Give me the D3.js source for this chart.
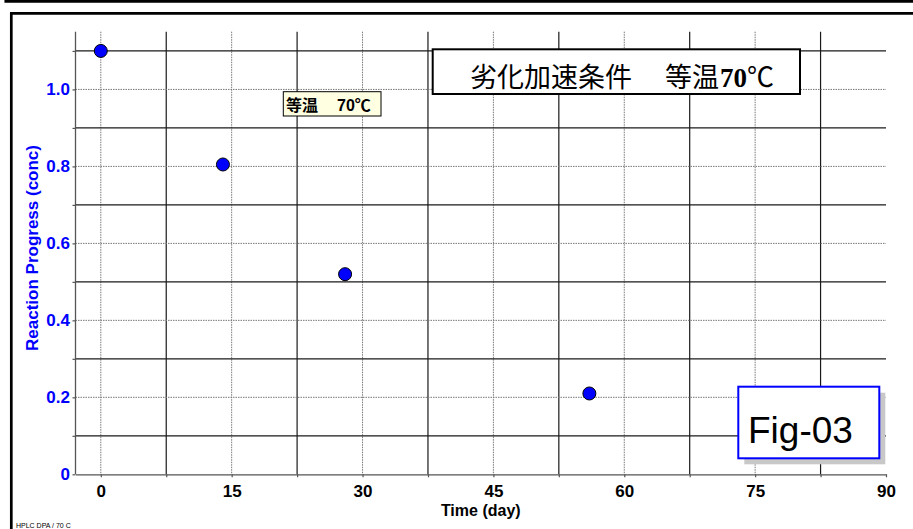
<!DOCTYPE html>
<html>
<head>
<meta charset="utf-8">
<script src="https://cdn.jsdelivr.net/npm/d3@7"></script>
<style>
  html, body { margin: 0; padding: 0; background: #fff; }
  svg { display: block; }
</style>
</head>
<body>
<div id="chart"></div>
<script>
// Sampling days and measured reaction progress at 70 °C
const days = [0, 14, 28, 56];
const conc = [1.10, 0.805, 0.52, 0.21];

// Labelled ticks (dotted grid) and in-between ticks (solid grid)
const xMajor = [0, 15, 30, 45, 60, 75, 90];
const xMinor = [7.5, 22.5, 37.5, 52.5, 67.5, 82.5];
const yMajor = [0, 0.2, 0.4, 0.6, 0.8, 1.0];
const yMinor = [0.1, 0.3, 0.5, 0.7, 0.9, 1.1];

const W = 913, H = 529;
const sans = "'Liberation Sans', Arial, sans-serif";

const svg = d3.select("#chart").append("svg")
  .attr("width", W).attr("height", H);

svg.append("rect").attr("width", W).attr("height", H).attr("fill", "#fff");

// page frames
svg.append("path").attr("d", "M5.8,0 V1.3 H913")
  .attr("fill", "none").attr("stroke", "#000").attr("stroke-width", 2.7);
svg.append("path").attr("d", "M913,13.3 H11.3 V529")
  .attr("fill", "none").attr("stroke", "#000").attr("stroke-width", 2.7);

const x = d3.scaleLinear().domain([-2.9, 90]).range([75.5, 886]);
const y = d3.scaleLinear().domain([0, 1.15]).range([474.3, 31.7]);

const grid = svg.append("g");

// vertical grid
grid.selectAll(".vmin").data(xMinor).join("line")
  .attr("x1", d => x(d)).attr("x2", d => x(d))
  .attr("y1", y(1.15)).attr("y2", y(0))
  .attr("stroke", "#1a1a1a").attr("stroke-width", 1.2);
grid.selectAll(".vmaj").data(xMajor.filter(d => d < 90)).join("line")
  .attr("x1", d => x(d)).attr("x2", d => x(d))
  .attr("y1", y(1.15)).attr("y2", y(0))
  .attr("stroke", "#777").attr("stroke-width", 1)
  .attr("stroke-dasharray", "1.5,1");

// horizontal grid
grid.selectAll(".hmin").data(yMinor).join("line")
  .attr("x1", x(-2.9)).attr("x2", x(90))
  .attr("y1", d => y(d)).attr("y2", d => y(d))
  .attr("stroke", "#1a1a1a").attr("stroke-width", 1.2);
grid.selectAll(".hmaj").data(yMajor.filter(d => d > 0)).join("line")
  .attr("x1", x(-2.9)).attr("x2", x(90))
  .attr("y1", d => y(d)).attr("y2", d => y(d))
  .attr("stroke", "#777").attr("stroke-width", 1)
  .attr("stroke-dasharray", "1.5,1");

// axes
const fmtX = d => xMajor.includes(d) ? d3.format("d")(d) : "";
const xAxis = svg.append("g")
  .attr("transform", `translate(0,${y(0)})`)
  .call(d3.axisBottom(x)
    .tickValues(xMajor.concat(xMinor).sort((a, b) => a - b))
    .tickFormat(fmtX).tickSizeInner(3).tickSizeOuter(0).tickPadding(8));
xAxis.select(".domain").attr("stroke", "#555").attr("stroke-width", 1.3);
xAxis.selectAll(".tick line").attr("stroke", "#555").attr("stroke-width", 1.2);
xAxis.selectAll("text")
  .attr("font-family", sans).attr("font-size", 17).attr("font-weight", "bold")
  .attr("fill", "#000");

const fmtY = d => {
  const m = yMajor.find(v => Math.abs(v - d) < 1e-9);
  return m === undefined ? "" : (m === 0 ? "0" : d3.format(".1f")(m));
};
const yAxis = svg.append("g")
  .attr("transform", `translate(${x(-2.9)},0)`)
  .call(d3.axisLeft(y)
    .tickValues(yMajor.concat(yMinor).sort((a, b) => a - b))
    .tickFormat(fmtY).tickSizeInner(3).tickSizeOuter(0).tickPadding(2.5));
yAxis.select(".domain").attr("stroke", "#555").attr("stroke-width", 1.3)
  .attr("d", `M0,${y(0)}V${y(1.15)}`);
yAxis.selectAll(".tick line").attr("stroke", "#555").attr("stroke-width", 1.2);
yAxis.selectAll("text")
  .attr("font-family", sans).attr("font-size", 17).attr("font-weight", "bold")
  .attr("fill", "#0000ff");

// axis titles
svg.append("text")
  .attr("x", (x(-2.9) + x(90)) / 2).attr("y", 516)
  .attr("text-anchor", "middle")
  .attr("font-family", sans).attr("font-size", 16).attr("font-weight", "bold")
  .text("Time (day)");
svg.append("text")
  .attr("transform", "translate(38,248) rotate(-90)")
  .attr("text-anchor", "middle")
  .attr("font-family", sans).attr("font-size", 17).attr("font-weight", "bold")
  .attr("fill", "#0000ff")
  .text("Reaction Progress (conc)");

// series legend tag
const tag = svg.append("g");
tag.append("rect")
  .attr("x", 283.3).attr("y", 91.7).attr("width", 97.7).attr("height", 24.3)
  .attr("fill", "#ffffe1").attr("stroke", "#000").attr("stroke-width", 1);
const tagText = tag.append("text")
  .attr("y", 111).attr("font-weight", "bold").attr("font-size", 16)
  .attr("font-family", "'Liberation Sans', 'Noto Sans CJK JP', sans-serif");
tagText.append("tspan").attr("x", 286).text("等温");
tagText.append("tspan").attr("x", 337).text("70℃");

// data points
svg.append("g").selectAll("circle").data(days).join("circle")
  .attr("cx", d => x(d))
  .attr("cy", (d, i) => y(conc[i]))
  .attr("r", 6.5)
  .attr("fill", "#0000ff").attr("stroke", "#000").attr("stroke-width", 1);

// title box
svg.append("rect")
  .attr("x", 432.7).attr("y", 49.3).attr("width", 367.3).attr("height", 44.7)
  .attr("fill", "#fff").attr("stroke", "#000").attr("stroke-width", 2);
const title = svg.append("text")
  .attr("y", 87)
  .attr("font-family", "'Liberation Serif', 'Noto Sans CJK JP', serif")
  .attr("font-size", 27);
title.append("tspan").attr("x", 470).text("劣化加速条件");
title.append("tspan").attr("x", 665).text("等温");
title.append("tspan").attr("x", 720).attr("font-weight", "bold").text("70");
title.append("tspan").text("℃");

// figure tag with drop shadow
svg.append("rect")
  .attr("x", 744.3).attr("y", 392.7).attr("width", 141).attr("height", 71.6)
  .attr("fill", "#c8c8c8");
svg.append("rect")
  .attr("x", 738.3).attr("y", 386.7).attr("width", 141).attr("height", 71.6)
  .attr("fill", "#fff").attr("stroke", "#0000ff").attr("stroke-width", 2);
svg.append("text")
  .attr("x", 748).attr("y", 443)
  .attr("font-family", sans).attr("font-size", 37)
  .text("Fig-03");

// footer note
svg.append("text")
  .attr("x", 16).attr("y", 528)
  .attr("font-family", sans).attr("font-size", 7)
  .text("HPLC DPA / 70 C");
</script>
</body>
</html>
